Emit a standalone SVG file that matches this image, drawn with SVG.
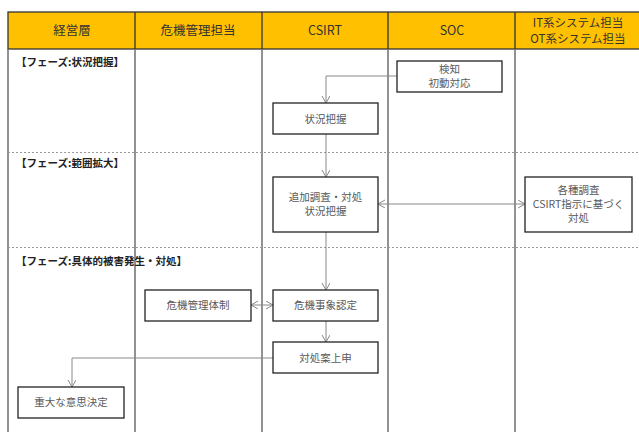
<svg xmlns="http://www.w3.org/2000/svg" width="639" height="432" viewBox="0 0 639 432">
<style>
.hdr{fill:#FFC000;stroke:#333;stroke-width:1.3}
.hl{stroke:#333;stroke-width:1.3}
.lane{stroke:#777;stroke-width:1.6}
.dot{stroke:#999;stroke-width:1;stroke-dasharray:2 2}
.box{fill:#fff;stroke:#222;stroke-width:1.3}
.ht{font-family:"Noto Sans CJK JP","Liberation Sans",sans-serif;font-size:12.5px;fill:#333;text-anchor:middle}
.ht2{font-family:"Noto Sans CJK JP","Liberation Sans",sans-serif;font-size:11.5px;fill:#333;text-anchor:middle}
.bt{font-family:"Noto Sans CJK JP","Liberation Sans",sans-serif;font-size:10.5px;fill:#595959;text-anchor:middle}
.pt{font-family:"Noto Sans CJK JP","Liberation Sans",sans-serif;font-size:10.5px;fill:#222;font-weight:bold}
.con{fill:none;stroke:#888;stroke-width:1}
</style>
<defs>
<marker id="ah" markerWidth="10" markerHeight="10" refX="7" refY="4" orient="auto-start-reverse" markerUnits="userSpaceOnUse">
<path d="M0,0 L7,4 L0,8" fill="none" stroke="#888" stroke-width="1"/>
</marker>
</defs>
<rect width="639" height="432" fill="#fff"/>
<g id="lanes">
<rect class="hdr" x="8" y="12" width="640" height="37"/>
<line class="hl" x1="135" y1="12" x2="135" y2="49"/>
<line class="hl" x1="262" y1="12" x2="262" y2="49"/>
<line class="hl" x1="388" y1="12" x2="388" y2="49"/>
<line class="hl" x1="515" y1="12" x2="515" y2="49"/>
<line class="lane" x1="8" y1="49" x2="8" y2="432"/>
<line class="lane" x1="135" y1="49" x2="135" y2="432"/>
<line class="lane" x1="262" y1="49" x2="262" y2="432"/>
<line class="lane" x1="388" y1="49" x2="388" y2="432"/>
<line class="lane" x1="515" y1="49" x2="515" y2="432"/>
<line class="dot" x1="8" y1="152.5" x2="639" y2="152.5"/>
<line class="dot" x1="8" y1="247.5" x2="639" y2="247.5"/>
<text class="ht" x="72" y="35">経営層</text>
<text class="ht" x="198" y="35">危機管理担当</text>
<text class="ht" x="325" y="35">CSIRT</text>
<text class="ht" x="452" y="35">SOC</text>
<text class="ht2" x="578" y="27">IT系システム担当</text>
<text class="ht2" x="578" y="43">OT系システム担当</text>
<text class="pt" x="16" y="66">【フェーズ:状況把握】</text>
<text class="pt" x="16" y="167">【フェーズ:範囲拡大】</text>
<text class="pt" x="16" y="265">【フェーズ:具体的被害発生・対処】</text>
</g>
<g id="connectors">
<path class="con" d="M397,76 H326 V103" marker-end="url(#ah)"/>
<path class="con" d="M326,134 V177" marker-end="url(#ah)"/>
<path class="con" d="M378,204 H525" marker-start="url(#ah)" marker-end="url(#ah)"/>
<path class="con" d="M326,232 V290" marker-end="url(#ah)"/>
<path class="con" d="M251,305 H273" marker-start="url(#ah)" marker-end="url(#ah)"/>
<path class="con" d="M326,321 V342" marker-end="url(#ah)"/>
<path class="con" d="M273,358 H72 V387" marker-end="url(#ah)"/>
</g>
<g id="soc-detect">
<rect class="box" x="397" y="61" width="105" height="31"/>
<text class="bt" x="449.5" y="73">検知</text>
<text class="bt" x="449.5" y="87">初動対応</text>
</g>
<g id="csirt-grasp">
<rect class="box" x="273" y="103" width="105" height="31"/>
<text class="bt" x="325.5" y="122.5">状況把握</text>
</g>
<g id="csirt-investigate">
<rect class="box" x="273" y="177" width="105" height="55"/>
<text class="bt" x="325.5" y="201">追加調査・対処</text>
<text class="bt" x="325.5" y="215">状況把握</text>
</g>
<g id="it-ot-investigate">
<rect class="box" x="525" y="177" width="107" height="55"/>
<text class="bt" x="578.5" y="194">各種調査</text>
<text class="bt" x="578.5" y="208">CSIRT指示に基づく</text>
<text class="bt" x="578.5" y="222">対処</text>
</g>
<g id="crisis-system">
<rect class="box" x="145" y="290" width="106" height="31"/>
<text class="bt" x="198" y="309">危機管理体制</text>
</g>
<g id="crisis-recognition">
<rect class="box" x="273" y="290" width="105" height="31"/>
<text class="bt" x="325.5" y="309">危機事象認定</text>
</g>
<g id="proposal">
<rect class="box" x="273" y="342" width="105" height="31"/>
<text class="bt" x="325.5" y="361.5">対処案上申</text>
</g>
<g id="decision">
<rect class="box" x="18" y="387" width="106" height="31"/>
<text class="bt" x="71" y="406">重大な意思決定</text>
</g>
</svg>
